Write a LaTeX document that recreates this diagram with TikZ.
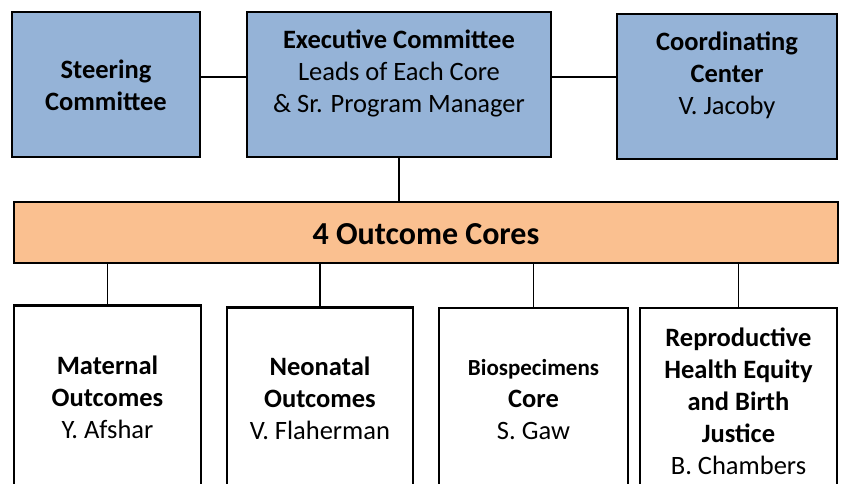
\documentclass[tikz,border=0pt]{standalone}
\usepackage{fontspec}
\setmainfont{Carlito}
\definecolor{boxblue}{HTML}{95B3D7}
\definecolor{boxorange}{HTML}{FAC090}
\begin{document}
\begin{tikzpicture}[x=1pt, y=-1pt,
    box/.style={rectangle, draw=black, line width=2.2pt, inner sep=0pt},
    topbox/.style={box, fill=boxblue, minimum height=145pt},
    corebox/.style={box, fill=white, minimum height=186pt},
    txt/.style={align=center, font=\fontsize{26.5}{32}\selectfont},
    link/.style={line width=1.5pt}]
  \useasboundingbox (0,0) rectangle (841,484);

  % top row
  \node[topbox, minimum width=188pt] (steer) at (106,84.5) {};
  \node[topbox, minimum width=304pt] (exec) at (399,84.5) {};
  \node[topbox, minimum width=220pt] (coord) at (727,86.5) {};
  \node[txt] (steertxt) at (106,85) {\textbf{Steering}\\\textbf{Committee}};
  \node[txt] (exectxt) at (399,73.5) {\textbf{Executive Committee}\\Leads of Each Core\\\& Sr. Program Manager};
  \node[txt] (coordtxt) at (727,75) {\textbf{Coordinating}\\\textbf{Center}\\V. Jacoby};

  % outcome cores bar
  \node[box, fill=boxorange, minimum width=824pt, minimum height=61pt] (bar) at (426,232.5) {};
  \node[txt, font=\fontsize{32}{38}\selectfont\bfseries] (bartxt) at (426,234) {4 Outcome Cores};

  % the four cores (run off the bottom edge)
  \node[corebox, minimum width=187pt] (mat) at (107.5,398.5) {};
  \node[corebox, minimum width=186pt, minimum height=184pt] (neo) at (320,399.5) {};
  \node[corebox, minimum width=189pt, minimum height=184pt] (bio) at (533.5,400) {};
  \node[corebox, minimum width=197pt, minimum height=184pt] (repro) at (738.5,400) {};
  \node[txt] (mattxt) at (107.5,397) {\textbf{Maternal}\\\textbf{Outcomes}\\Y. Afshar};
  \node[txt] (neotxt) at (320,398) {\textbf{Neonatal}\\\textbf{Outcomes}\\V. Flaherman};
  \node[txt] (biotxt) at (533.5,400) {{\fontsize{23}{30}\selectfont\textbf{Biospecimens}}\\\textbf{Core}\\S. Gaw};
  \node[txt] (reprotxt) at (738.5,401) {\textbf{Reproductive}\\\textbf{Health Equity}\\\textbf{and Birth}\\\textbf{Justice}\\B. Chambers};

  % connectors
  \coordinate (tie) at (0,77);
  \draw[link] (steer.east |- tie) -- (exec.west |- tie);
  \draw[link] (exec.east |- tie) -- (coord.west |- tie);
  \draw[link] (exec.south) -- (bar.north -| exec.south);
  \foreach \c in {mat, neo, bio, repro}
    \draw[link] (\c.north) -- (\c.north |- bar.south);
\end{tikzpicture}
\end{document}
